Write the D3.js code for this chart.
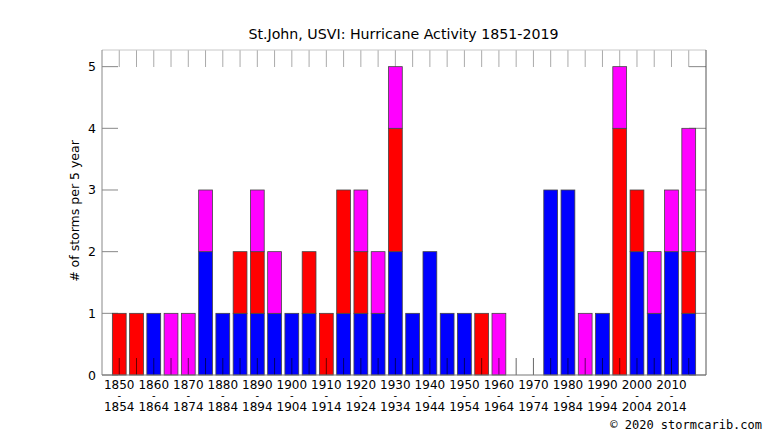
<!DOCTYPE html>
<html><head><meta charset="utf-8">
<script src="https://cdn.jsdelivr.net/npm/d3@7"></script>
<style>
html,body{margin:0;padding:0;background:#fff;}
svg{display:block;}
text{font-family:"DejaVu Sans",sans-serif;fill:#000;}
</style></head>
<body>
<svg id="c" width="766" height="431"></svg>
<script>
const periods = [1850,1855,1860,1865,1870,1875,1880,1885,1890,1895,1900,1905,1910,1915,1920,1925,1930,1935,1940,1945,1950,1955,1960,1965,1970,1975,1980,1985,1990,1995,2000,2005,2010,2015];
const blueVals    = [0,0,1,0,0,2,1,1,1,1,1,1,0,1,1,1,2,1,2,1,1,0,0,0,0,3,3,0,1,0,2,1,2,1];
const redVals     = [1,1,0,0,0,0,0,1,1,0,0,1,1,2,1,0,2,0,0,0,0,1,0,0,0,0,0,0,0,4,1,0,0,1];
const magentaVals = [0,0,0,1,1,1,0,0,1,1,0,0,0,0,1,1,1,0,0,0,0,0,1,0,0,0,0,1,0,1,0,1,1,2];
const yTicks = [0,1,2,3,4,5];
const seriesNames = ["blue","red","magenta"];
const seriesColors = ["#0000ff","#ff0000","#ff00ff"];

const svg = d3.select("#c");
const L=102, R=706, T=50, B=375;
const x = d3.scaleLinear().domain([-1, periods.length]).range([L, R]);
const y = d3.scaleLinear().domain([0, 5.27]).range([B, T]);

const table = periods.map((p,i)=>({period:p, blue:blueVals[i], red:redVals[i], magenta:magentaVals[i]}));
const stacked = d3.stack().keys(seriesNames)(table);

// y ticks (behind bars)
const gy = svg.append("g");
yTicks.forEach(t=>{
  gy.append("line").attr("x1",L).attr("x2",L+16).attr("y1",y(t)).attr("y2",y(t)).attr("stroke","#888").attr("stroke-width",1);
  gy.append("line").attr("x1",R-17).attr("x2",R).attr("y1",y(t)).attr("y2",y(t)).attr("stroke","#888").attr("stroke-width",1);
  gy.append("text").attr("x",96).attr("y",y(t)+4.5).attr("text-anchor","end").attr("font-size",12.5).text(t);
});

// top mirror ticks
periods.forEach((p,i)=>{
  svg.append("line").attr("x1",x(i)).attr("x2",x(i)).attr("y1",T).attr("y2",T+17).attr("stroke","#aaa").attr("stroke-width",1);
});

// bars
const bw = 0.8;
stacked.forEach((s,k)=>{
  svg.append("g").selectAll("rect").data(s).join("rect")
    .filter(d=>d[1]-d[0]>0)
    .attr("x",d=>x(periods.indexOf(d.data.period)-bw/2))
    .attr("width",x(bw)-x(0))
    .attr("y",d=>y(d[1]))
    .attr("height",d=>y(d[0])-y(d[1]))
    .attr("fill",seriesColors[k])
    .attr("stroke","#444").attr("stroke-width",0.8);
});

// bottom ticks (on top of bars)
periods.forEach((p,i)=>{
  svg.append("line").attr("x1",x(i)).attr("x2",x(i)).attr("y1",B).attr("y2",B-17).attr("stroke","#000").attr("stroke-opacity",0.6).attr("stroke-width",1);
});

// border
svg.append("line").attr("x1",L).attr("x2",R).attr("y1",T).attr("y2",T).attr("stroke","#c8c8c8");
svg.append("line").attr("x1",L).attr("x2",L).attr("y1",T).attr("y2",B).attr("stroke","#888");
svg.append("line").attr("x1",R).attr("x2",R).attr("y1",T).attr("y2",B).attr("stroke","#555");
svg.append("line").attr("x1",L).attr("x2",R).attr("y1",B).attr("y2",B).attr("stroke","#777");

// x labels
periods.forEach((p,i)=>{
  if(i%2!==0) return;
  svg.append("text").attr("x",x(i)).attr("y",388.5).attr("text-anchor","middle").attr("font-size",12).text(p);
  svg.append("text").attr("x",x(i)).attr("y",398.5).attr("text-anchor","middle").attr("font-size",10).text("-");
  svg.append("text").attr("x",x(i)).attr("y",410.5).attr("text-anchor","middle").attr("font-size",12).text(p+4);
});

// title
svg.append("text").attr("x",403.5).attr("y",38.5).attr("text-anchor","middle").attr("font-size",14.2)
  .text("St.John, USVI: Hurricane Activity 1851-2019");
// y label
svg.append("text").attr("transform","translate(79,211) rotate(-90)").attr("text-anchor","middle").attr("font-size",12.5)
  .text("# of storms per 5 year");
// copyright
svg.append("text").attr("x",762).attr("y",428.5).attr("text-anchor","end").attr("font-size",12)
  .style("font-family","'DejaVu Sans Mono',monospace").text("© 2020 stormcarib.com");
</script>
</body></html>
